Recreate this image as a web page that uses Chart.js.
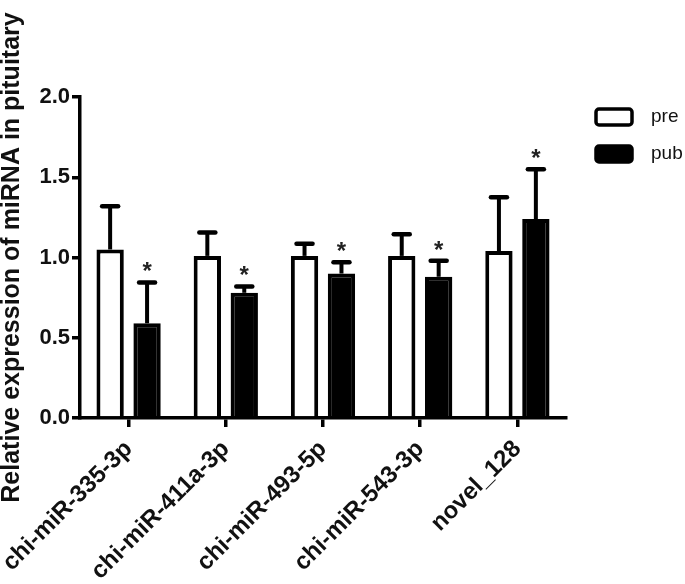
<!DOCTYPE html>
<html>
<head>
<meta charset="utf-8">
<script src="https://cdn.jsdelivr.net/npm/chart.js@4.4.0/dist/chart.umd.min.js"></script>
<style>
  body { margin: 0; background: #fff; }
  #wrap { width: 685px; height: 584px; }
</style>
</head>
<body>
<div id="wrap"><canvas id="mirnaChart"></canvas></div>
<script>
const categories = ['chi-miR-335-3p', 'chi-miR-411a-3p', 'chi-miR-493-5p', 'chi-miR-543-3p', 'novel_128'];
const preValues = [1.05, 1.01, 1.01, 1.01, 1.04];
const preErrors = [0.27, 0.145, 0.075, 0.135, 0.335];
const pubValues = [0.59, 0.78, 0.90, 0.88, 1.24];
const pubErrors = [0.255, 0.04, 0.07, 0.10, 0.31];
const pubStars = ['*', '*', '*', '*', '*'];
const yTicks = [0, 0.5, 1.0, 1.5, 2.0];

const FONT = "'Liberation Sans', Arial, sans-serif";

// error bars (upper only) + significance stars
const errorBarPlugin = {
  id: 'errorBars',
  afterDatasetsDraw(chart) {
    const ctx = chart.ctx;
    const yScale = chart.scales.y;
    chart.data.datasets.forEach((ds, di) => {
      const meta = chart.getDatasetMeta(di);
      meta.data.forEach((bar, i) => {
        const top = yScale.getPixelForValue(ds.data[i]);
        const errY = yScale.getPixelForValue(ds.data[i] + ds.errors[i]);
        ctx.save();
        ctx.strokeStyle = '#000';
        ctx.lineWidth = 4;
        ctx.beginPath();
        ctx.moveTo(bar.x, top);
        ctx.lineTo(bar.x, errY);
        ctx.stroke();
        ctx.lineCap = 'round';
        ctx.lineWidth = 4.5;
        ctx.beginPath();
        ctx.moveTo(bar.x - 8, errY);
        ctx.lineTo(bar.x + 8, errY);
        ctx.stroke();
        if (ds.stars && ds.stars[i]) {
          ctx.fillStyle = '#222';
          ctx.font = 'bold 24px ' + FONT;
          ctx.textAlign = 'center';
          ctx.textBaseline = 'alphabetic';
          ctx.fillText(ds.stars[i], bar.x, errY - 3);
        }
        ctx.restore();
      });
    });
  }
};

const sideLegend = {
  id: 'sideLegend',
  afterDraw(chart) {
    const ctx = chart.ctx;
    const x = chart.chartArea.right + 30;
    chart.data.datasets.forEach((ds, i) => {
      const y = chart.chartArea.top + 12 + i * 37;
      ctx.save();
      ctx.lineWidth = 3.5;
      ctx.strokeStyle = '#000';
      ctx.fillStyle = ds.backgroundColor;
      ctx.beginPath();
      ctx.roundRect(x, y, 36, 16, 3);
      ctx.fill();
      ctx.stroke();
      ctx.fillStyle = '#111';
      ctx.font = '19px ' + FONT;
      ctx.textBaseline = 'middle';
      ctx.fillText(ds.label, x + 55, y + 8);
      ctx.restore();
    });
  }
};

new Chart(document.getElementById('mirnaChart'), {
  type: 'bar',
  data: {
    labels: categories,
    datasets: [
      {
        label: 'pre',
        data: preValues,
        errors: preErrors,
        backgroundColor: '#fff',
        borderColor: '#000',
        borderWidth: 4
      },
      {
        label: 'pub',
        data: pubValues,
        errors: pubErrors,
        stars: pubStars,
        backgroundColor: '#000',
        borderColor: '#000',
        borderWidth: 4
      }
    ]
  },
  options: {
    responsive: true,
    maintainAspectRatio: false,
    animation: false,
    categoryPercentage: 0.76,
    barPercentage: 0.74,
    layout: {
      padding: { top: 97, right: 119, left: 0, bottom: 0 }
    },
    plugins: {
      legend: { display: false },
      tooltip: { enabled: false }
    },
    scales: {
      y: {
        min: 0,
        max: 2,
        afterBuildTicks: s => { s.ticks = yTicks.map(v => ({ value: v })); },
        afterFit: s => { s.width = 80; s.paddingTop = 0; s.paddingBottom = 0; },
        ticks: {
          color: '#111',
          padding: 2,
          font: { family: FONT, size: 22, weight: 'bold' },
          callback: v => Number(v).toFixed(1)
        },
        grid: {
          display: true,
          drawOnChartArea: false,
          drawTicks: true,
          tickLength: 8,
          color: '#000',
          lineWidth: 3.5
        },
        border: { display: true, color: '#000', width: 3.5 },
        title: {
          display: true,
          text: 'Relative expression of miRNA in pituitary',
          color: '#111',
          font: { family: FONT, size: 25, weight: 'bold', lineHeight: 1.0 },
          padding: { top: 0, bottom: 0 }
        }
      },
      x: {
        afterFit: s => { s.height = 166; s.paddingLeft = 0; s.paddingRight = 0; },
        ticks: {
          color: '#111',
          autoSkip: false,
          maxRotation: 45,
          minRotation: 45,
          padding: 8,
          font: { family: FONT, size: 24, weight: 'bold' }
        },
        grid: {
          display: true,
          offset: false,
          drawOnChartArea: false,
          drawTicks: true,
          tickLength: 9,
          color: '#000',
          lineWidth: 3.5
        },
        border: { display: true, color: '#000', width: 3.5 }
      }
    }
  },
  plugins: [errorBarPlugin, sideLegend]
});
</script>
</body>
</html>
